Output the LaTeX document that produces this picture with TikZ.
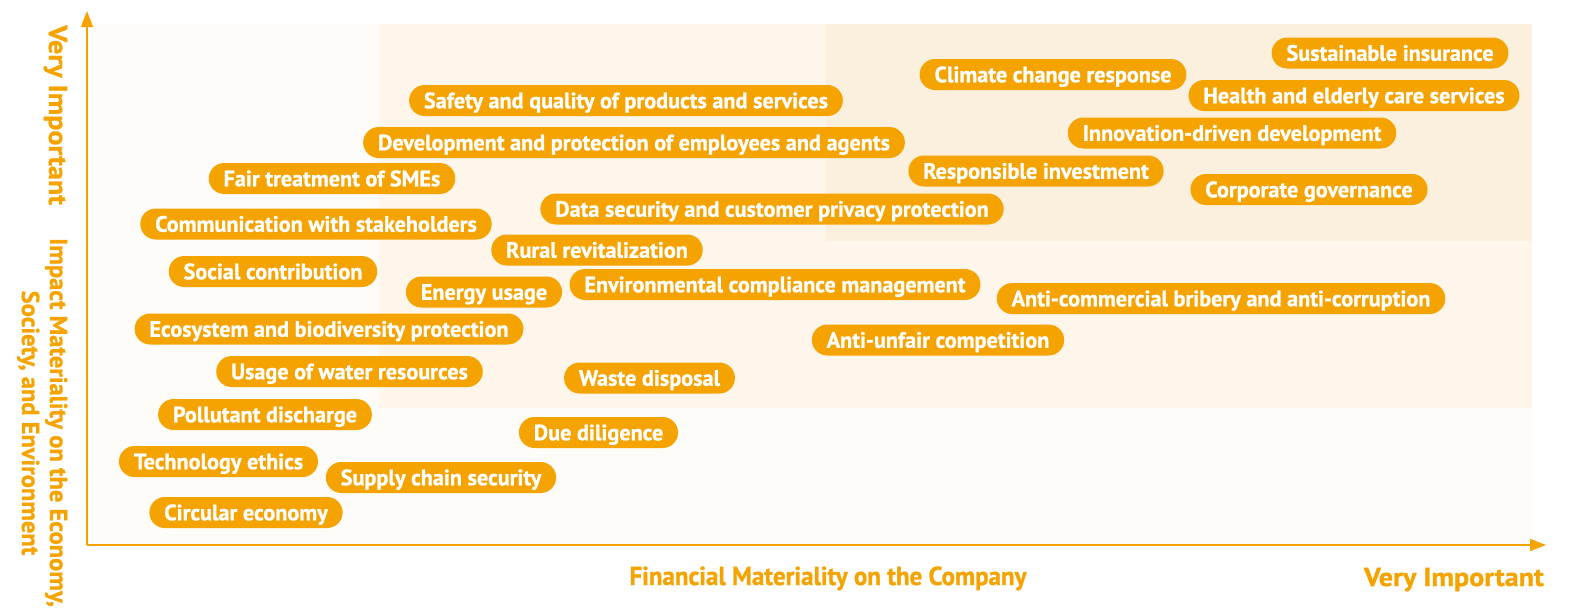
\documentclass[tikz,border=0pt]{standalone}
\usepackage{fontspec}
\setmainfont{PT Sans}[BoldFeatures={FakeBold=1.0}]
\usetikzlibrary{arrows.meta,shapes.misc}
\definecolor{accent}{HTML}{F5A300}
\definecolor{zoneA}{HTML}{FEFCF8}
\definecolor{zoneB}{HTML}{FEF6EA}
\definecolor{zoneC}{HTML}{FBF0DE}
\begin{document}
\begin{tikzpicture}[x=1pt,y=-1pt,
  topic/.style={rounded rectangle, fill=accent, text=white,
    font=\bfseries\fontsize{22.2}{25}\selectfont,
    minimum height=31pt, inner xsep=11pt, inner ysep=0pt,
    text height=18pt, text depth=2.5pt},
  axislabel/.style={text=accent, font=\bfseries\fontsize{26}{28}\selectfont, inner sep=0pt},
  widelabel/.style={axislabel, font=\bfseries\fontsize{26}{28}\selectfont\addfontfeature{FakeStretch=1.08}},
  narrowlabel/.style={axislabel, font=\bfseries\fontsize{26}{28}\selectfont\addfontfeature{FakeStretch=0.96}},
  sidelabel/.style={axislabel, font=\bfseries\fontsize{24.5}{26}\selectfont, rotate=-90},
  axisline/.style={draw=accent, line width=1.6pt, -{Triangle[length=16pt,width=12pt]}}
]
\useasboundingbox (0,0) rectangle (1576,613);

% importance zones
\fill[zoneA] (87,24) rectangle (1532,545);
\fill[zoneB] (379,24) rectangle (1532,408);
\fill[zoneC] (826,24) rectangle (1532,241);

% axes
\coordinate (origin) at (87,545);
\coordinate (xtip) at (1546,545);
\coordinate (ytip) at (87,11);
\draw[axisline] (origin) -- (xtip);
\draw[axisline] (origin) -- (ytip);

% axis titles
\node[narrowlabel, anchor=base] (xtitle) at (828,585) {Financial Materiality on the Company};
\node[widelabel, anchor=base east] (xhigh) at (1544,586) {Very Important};
\node[widelabel, rotate=-90, anchor=base west] (yhigh) at (49,25) {Very Important};
\node[sidelabel, anchor=base west] (ytitleA) at (50,238) {Impact Materiality on the Economy,};
\node[sidelabel, anchor=base] (ytitleB) at (22,423) {Society, and Environment};

% material topics
\node[topic] (t01) at (1390,53) {Sustainable insurance};
\node[topic] (t02) at (1354,95.5) {Health and elderly care services};
\node[topic] (t03) at (1232,133) {Innovation-driven development};
\node[topic] (t04) at (1309,189.5) {Corporate governance};
\node[topic] (t05) at (1053,74.5) {Climate change response};
\node[topic] (t06) at (1036,171) {Responsible investment};
\node[topic] (t07) at (626,100.5) {Safety and quality of products and services};
\node[topic] (t08) at (634,142.5) {Development and protection of employees and agents};
\node[topic] (t09) at (332,178.5) {Fair treatment of SMEs};
\node[topic] (t10) at (316,224) {Communication with stakeholders};
\node[topic] (t11) at (772,209) {Data security and customer privacy protection};
\node[topic] (t12) at (597,250) {Rural revitalization};
\node[topic] (t13) at (273,271.5) {Social contribution};
\node[topic] (t14) at (484,292) {Energy usage};
\node[topic] (t15) at (775,284.5) {Environmental compliance management};
\node[topic] (t16) at (1221,298.5) {Anti-commercial bribery and anti-corruption};
\node[topic] (t17) at (938,340) {Anti-unfair competition};
\node[topic] (t18) at (329,329) {Ecosystem and biodiversity protection};
\node[topic] (t19) at (349.5,371.5) {Usage of water resources};
\node[topic] (t20) at (649.5,378) {Waste disposal};
\node[topic] (t21) at (265,414.5) {Pollutant discharge};
\node[topic] (t22) at (598.5,432.5) {Due diligence};
\node[topic] (t23) at (218.5,461.5) {Technology ethics};
\node[topic] (t24) at (441,477.5) {Supply chain security};
\node[topic] (t25) at (246,512.5) {Circular economy};
\end{tikzpicture}
\end{document}
